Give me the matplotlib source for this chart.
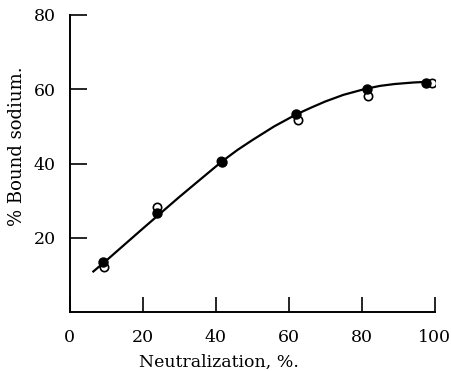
import matplotlib.pyplot as plt

# filled and open symbols
neut_filled = [9.2, 24.0, 41.6, 62.1, 81.4, 97.6]
bound_filled = [13.6, 26.8, 40.4, 53.4, 60.0, 61.6]

neut_open = [9.5, 24.0, 41.4, 62.4, 81.8, 99.2]
bound_open = [12.1, 28.4, 40.6, 51.6, 58.3, 61.8]

# hand-drawn smooth curve, traced point by point
curve_x = [6.5, 10, 15, 20, 24, 30, 35, 41.6, 46, 50, 56, 62, 66, 70, 75, 81, 85, 89, 94, 98]
curve_y = [11.0, 13.9, 18.2, 22.5, 25.9, 31.0, 35.1, 40.5, 43.7, 46.3, 50.0, 53.2, 55.0, 56.7, 58.5, 60.1, 60.9, 61.4, 61.8, 62.0]

xticks = [0, 20, 40, 60, 80, 100]
yticks = [20, 40, 60, 80]

plt.rcParams['font.family'] = ['DejaVu Serif']

fig = plt.figure(figsize=(4.52, 3.71), dpi=100)
ax = fig.add_axes([0.154, 0.158, 0.808, 0.802])

ax.plot(curve_x, curve_y, color='black', lw=1.6, zorder=2)
ax.plot(neut_open, bound_open, 'o', ms=6, mfc='white', mec='black', mew=1.2, zorder=3)
ax.plot(neut_filled, bound_filled, 'o', ms=6.5, mfc='black', mec='black', zorder=4)

ax.set_xlim(0, 100)
ax.set_ylim(0, 80)
ax.set_xticks(xticks)
ax.set_yticks(yticks)
ax.spines['top'].set_visible(False)
ax.spines['right'].set_visible(False)
for s in ['left', 'bottom']:
    ax.spines[s].set_linewidth(1.4)
ax.tick_params(axis='y', direction='in', length=12, width=1.2, pad=10, labelsize=12.5)
ax.tick_params(axis='x', direction='in', length=11, width=1.2, pad=12, labelsize=12.5)

ax.set_xlabel('Neutralization, %.', fontsize=12.5, labelpad=1)
ax.xaxis.set_label_coords(0.41, -0.14)
ax.set_ylabel('% Bound sodium.', fontsize=13, labelpad=3)
ax.yaxis.set_label_coords(-0.12, 0.56)

fig.savefig('out.png', dpi=100)
